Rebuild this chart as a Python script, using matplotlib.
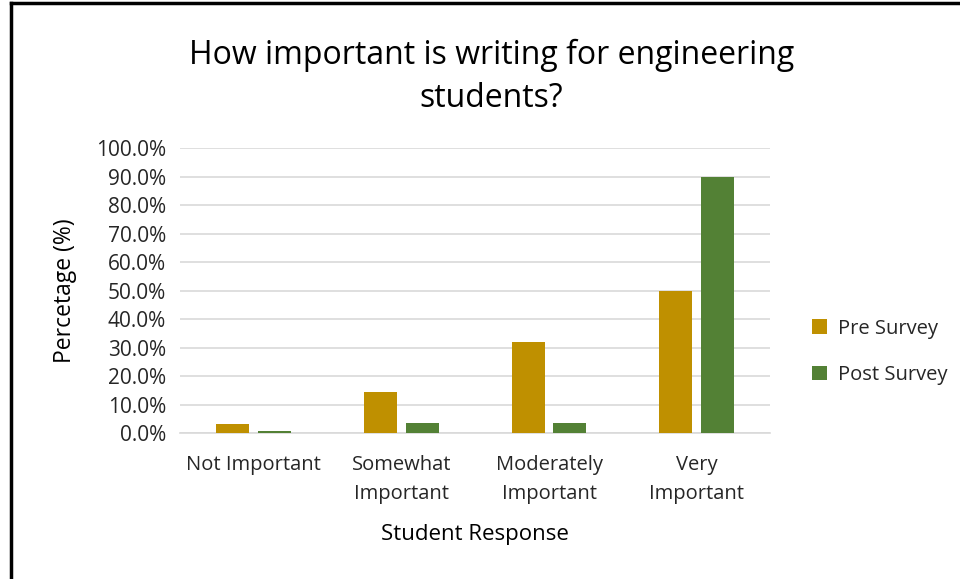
import matplotlib.pyplot as plt
import numpy as np
from matplotlib.ticker import PercentFormatter
from matplotlib.lines import Line2D

categories = ["Not Important", "Somewhat\nImportant", "Moderately\nImportant", "Very\nImportant"]
pre_survey = [3.3, 14.3, 32.0, 50.0]
post_survey = [0.9, 3.6, 3.6, 90.0]

plt.rcParams['font.family'] = ['Open Sans', 'DejaVu Sans']

fig = plt.figure(figsize=(9.6, 5.79), dpi=100)
ax = fig.add_axes([0.1875, 0.252, 0.615, 0.492])

x = np.arange(len(categories))
w = 0.224
ax.bar(x - 0.142, pre_survey, w, color="#BF9000", label="Pre Survey", zorder=3)
ax.bar(x + 0.142, post_survey, w, color="#538135", label="Post Survey", zorder=3)

ax.set_xlim(-0.5, len(categories) - 0.5)
ax.set_ylim(0, 100)
ax.set_yticks(np.arange(0, 101, 10))
ax.yaxis.set_major_formatter(PercentFormatter(decimals=1))
ax.yaxis.grid(True, color="#D9D9D9", linewidth=1.2, zorder=0)
ax.set_xticks(x)
ax.set_xticklabels(categories, fontsize=14.5, color="#262626", linespacing=1.55)
ax.tick_params(axis="y", labelsize=15, labelcolor="#262626", length=0, pad=10)
ax.tick_params(axis="x", length=0, pad=16)
for s in ["top", "right", "left"]:
    ax.spines[s].set_visible(False)
ax.spines["bottom"].set_color("#D9D9D9")
ax.spines["bottom"].set_linewidth(1.2)

ax.set_ylabel("Percetage (%)", fontsize=16.5, color="black", labelpad=14)
ax.set_xlabel("Student Response", fontsize=16, color="black", labelpad=15)

fig.text(0.512, 0.868, "How important is writing for engineering\nstudents?",
         ha="center", va="center", fontsize=23, color="black", linespacing=1.4)

ax.legend(loc="center left", bbox_to_anchor=(1.04, 0.285), frameon=False,
          fontsize=14.5, handlelength=0.75, handleheight=0.75, labelspacing=1.3,
          handletextpad=0.55, labelcolor="#262626")

# border lines on top and left
fig.add_artist(Line2D([0.011, 1.0], [0.994, 0.994], color="black", linewidth=2.5,
                      transform=fig.transFigure))
fig.add_artist(Line2D([0.011, 0.011], [0.0, 0.994], color="black", linewidth=2.5,
                      transform=fig.transFigure))

fig.savefig("out.png", dpi=100)
